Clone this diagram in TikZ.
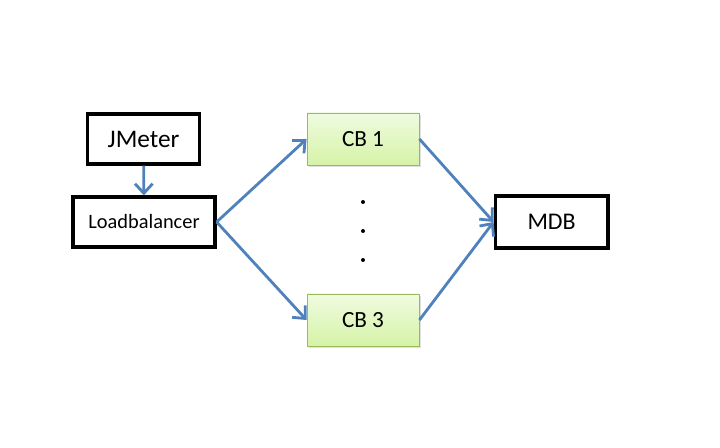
\documentclass[tikz,border=0pt]{standalone}
\usepackage{fontspec}
\setmainfont{Carlito}
\usepackage{tikz}
\usetikzlibrary{arrows.meta, shadows, positioning}
\definecolor{arrowblue}{HTML}{4F81BD}
\definecolor{cbtop}{HTML}{F0FBE1}
\definecolor{cbbottom}{HTML}{D5F3A6}
\definecolor{cbborder}{HTML}{9BBB59}
\tikzstyle{block} = [draw, rectangle, line width=2.3pt,
    minimum height=1.25cm, minimum width=2.8cm, font=\fontsize{17}{18}\selectfont]
\tikzstyle{cb} = [draw=cbborder, rectangle, line width=0.6pt,
    top color=cbtop, bottom color=cbbottom,
    drop shadow={opacity=0.25, shadow xshift=0.04cm, shadow yshift=-0.04cm},
    minimum height=1.3cm, minimum width=2.8cm, font=\fontsize{16.5}{18}\selectfont]
\tikzstyle{dot} = [circle, fill, inner sep=0pt, minimum size=0.1cm]
\tikzstyle{link} = [draw=arrowblue, line width=2pt, -{Straight Barb[length=0.24cm, width=0.44cm, line width=2pt]}]

\begin{document}
\begin{tikzpicture}
        \useasboundingbox (0, 0) rectangle (18, 11.2);

        \node[block, font=\fontsize{18}{20}\selectfont, name=jmeter] at (3.59, 7.725) {JMeter};
        \node[block, minimum width=3.55cm, font=\fontsize{14.5}{16}\selectfont, name=lb] at (3.6, 5.65) {Loadbalancer};
        \node[cb, name=cb1] at (9.075, 7.725) {CB 1};
        \node[cb, name=cb3] at (9.075, 3.2) {CB 3};
        \node[block, minimum width=2.82cm, minimum height=1.3cm, name=mdb] at (13.79, 5.65) {MDB};

        \node[dot, name=dot1] at (9.075, 6.15) {};
        \node[dot, name=dot2] at (9.075, 5.425) {};
        \node[dot, name=dot3] at (9.075, 4.7) {};

        \draw[link] (jmeter) -- (lb);
        \draw[link] (lb.east) -- (cb1.west);
        \draw[link] (lb.east) -- (cb3.west);
        \draw[link] (cb1.east) -- (mdb.west);
        \draw[link] (cb3.east) -- (mdb.west);
    \end{tikzpicture}
\end{document}
